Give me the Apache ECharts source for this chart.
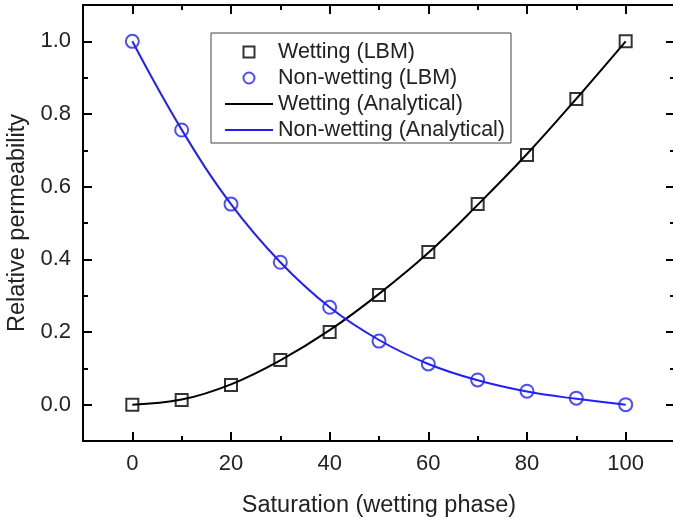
<!DOCTYPE html>
<html>
<head>
<meta charset="utf-8">
<script src="https://cdn.jsdelivr.net/npm/echarts@6/dist/echarts.min.js"></script>
<style>
  html, body { margin: 0; padding: 0; background: #fff; }
  #chart { width: 673px; height: 518px; }
</style>
</head>
<body>
<div id="chart"></div>
<script>
// saturation of wetting phase (%)
const saturation = [0, 10, 20, 30, 40, 50, 60, 70, 80, 90, 100];
// LBM results
const wettingLBM = [0.0, 0.013, 0.054, 0.123, 0.200, 0.302, 0.420, 0.552, 0.687, 0.841, 1.0];
const nonWettingLBM = [1.0, 0.756, 0.552, 0.392, 0.268, 0.175, 0.112, 0.068, 0.037, 0.018, 0.0];
// analytical curves (read at the same saturations)
const wettingAnalytical = [0.0, 0.014, 0.056, 0.122, 0.205, 0.305, 0.418, 0.550, 0.690, 0.842, 1.0];
const nonWettingAnalytical = [1.0, 0.757, 0.552, 0.392, 0.268, 0.178, 0.112, 0.067, 0.036, 0.016, 0.0];

// ticks
const xMajor = [0, 20, 40, 60, 80, 100];
const xMinor = [10, 30, 50, 70, 90];
const yMajor = [0, 0.2, 0.4, 0.6, 0.8, 1.0];
const yMinor = [0.1, 0.3, 0.5, 0.7, 0.9];

const font = "'Liberation Sans', Arial, sans-serif";
const blue = '#1f1fff';
const lineIcon = 'path://M0,0H48V2H0Z';

function pairs(xs, ys) {
  return xs.map((x, i) => [x, ys[i]]);
}

// one axis builder for the four sides, major and minor
function axis(kind, grid, pos, ticks, major, withLabel) {
  const a = {
    type: 'value',
    gridIndex: grid,
    position: pos,
    min: kind === 'x' ? -10 : -0.1,
    max: kind === 'x' ? 110 : 1.1,
    splitLine: { show: false },
    axisLine: { show: major, onZero: false, lineStyle: { color: '#000', width: 2 } },
    axisTick: {
      show: true,
      inside: true,
      length: major ? 9 : 5,
      customValues: ticks,
      lineStyle: { color: '#000', width: 2 }
    },
    axisLabel: { show: false }
  };
  if (withLabel) {
    a.axisLabel = {
      show: true,
      customValues: ticks,
      fontSize: 22,
      fontFamily: font,
      color: '#222',
      margin: 12,
      formatter: kind === 'y' ? (v) => v.toFixed(1) : (v) => String(v)
    };
  }
  return a;
}

const xBottom = axis('x', 0, 'bottom', xMajor, true, true);
xBottom.name = 'Saturation (wetting phase)';
xBottom.nameLocation = 'middle';
xBottom.nameGap = 53;
xBottom.nameTextStyle = { fontSize: 23.5, fontFamily: font, color: '#222' };

const yLeft = axis('y', 0, 'left', yMajor, true, true);
yLeft.name = 'Relative permeability';
yLeft.nameLocation = 'middle';
yLeft.nameGap = 52;
yLeft.nameTextStyle = { fontSize: 23.5, fontFamily: font, color: '#222' };

// right border sits just past the picture's edge; only its ticks show
const yRight = axis('y', 0, 'right', yMajor, true, false);
yRight.axisLine.show = false;

const gridBox = { left: 83, top: 5, width: 592, height: 436, outerBoundsMode: 'none', containLabel: false };

const chart = echarts.init(document.getElementById('chart'));
chart.setOption({
  animation: false,
  backgroundColor: '#fff',
  grid: [Object.assign({}, gridBox), Object.assign({}, gridBox)],
  xAxis: [
    xBottom,
    axis('x', 0, 'top', xMajor, true, false),
    axis('x', 1, 'bottom', xMinor, false, false),
    axis('x', 1, 'top', xMinor, false, false)
  ],
  yAxis: [
    yLeft,
    yRight,
    axis('y', 1, 'left', yMinor, false, false),
    axis('y', 1, 'right', yMinor, false, false)
  ],
  legend: {
    orient: 'vertical',
    left: 211,
    top: 33,
    backgroundColor: '#fff',
    borderColor: '#444',
    borderWidth: 1,
    padding: [8, 6, 2, 14],
    itemGap: 4,
    itemWidth: 48,
    itemHeight: 11,
    textStyle: { fontSize: 21.5, fontFamily: font, color: '#222' },
    data: [
      { name: 'Wetting (LBM)' },
      { name: 'Non-wetting (LBM)' },
      { name: 'Wetting (Analytical)', icon: lineIcon },
      { name: 'Non-wetting (Analytical)', icon: lineIcon }
    ]
  },
  series: [
    {
      name: 'Wetting (Analytical)',
      type: 'line',
      data: pairs(saturation, wettingAnalytical),
      smooth: 0.4,
      symbol: 'none',
      lineStyle: { color: '#000', width: 2 },
      itemStyle: { color: '#000' },
      z: 2
    },
    {
      name: 'Non-wetting (Analytical)',
      type: 'line',
      data: pairs(saturation, nonWettingAnalytical),
      smooth: 0.4,
      symbol: 'none',
      lineStyle: { color: blue, width: 2 },
      itemStyle: { color: blue },
      z: 2
    },
    {
      name: 'Wetting (LBM)',
      type: 'scatter',
      data: pairs(saturation, wettingLBM),
      symbol: 'path://M0,0H10V10H0Z',
      symbolSize: 12,
      itemStyle: { color: 'rgba(0,0,0,0)', borderColor: '#000', borderWidth: 2 },
      z: 3
    },
    {
      name: 'Non-wetting (LBM)',
      type: 'scatter',
      data: pairs(saturation, nonWettingLBM),
      symbol: 'circle',
      symbolSize: 13,
      itemStyle: { color: 'rgba(0,0,0,0)', borderColor: blue, borderWidth: 2 },
      z: 3
    }
  ]
});
</script>
</body>
</html>
